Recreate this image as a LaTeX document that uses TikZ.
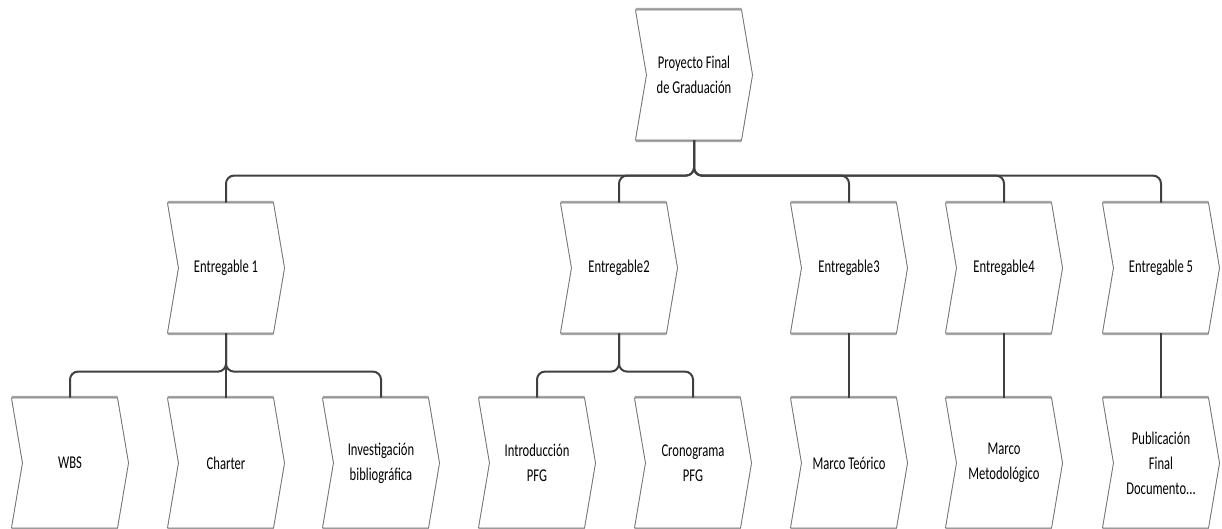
\documentclass[tikz,border=0pt]{standalone}
\usepackage{fontspec}
\setmainfont{Carlito}[FakeStretch=0.7]
\usepackage{tikz}
\usetikzlibrary{shapes.symbols,shadows}

\tikzset{
  wbsbox/.style={shape=signal, signal from=west, signal to=east,
    signal pointer angle=160.8, minimum width=117pt, minimum height=130pt,
    inner sep=0pt, fill=white, draw=black!55, line width=0.8pt,
    general shadow={fill=black!35, shadow yshift=2.2pt},
    general shadow={fill=black!35, shadow yshift=-2.2pt},
    align=center, font=\fontsize{18}{25}\selectfont},
  link/.style={draw=black!75, line width=2pt, rounded corners=8pt},
}

\begin{document}
\begin{tikzpicture}[x=1pt,y=-1pt]
    \useasboundingbox (0,0) rectangle (1222,529);

    % root
    \node[wbsbox] (pfg) at (694,75) {Proyecto Final\\de Graduación};

    % entregables
    \node[wbsbox] (e1) at ( 226,268) {Entregable 1};
    \node[wbsbox] (e2) at ( 619,268) {Entregable2};
    \node[wbsbox] (e3) at ( 849,268) {Entregable3};
    \node[wbsbox] (e4) at (1004,268) {Entregable4};
    \node[wbsbox] (e5) at (1161,268) {Entregable 5};

    % paquetes de trabajo
    \node[wbsbox] (wbs)   at (  70,463) {WBS};
    \node[wbsbox] (chart) at ( 226,463) {Charter};
    \node[wbsbox] (inv)   at ( 381,463) {Investigación\\bibliográfica};
    \node[wbsbox] (intro) at ( 537,463) {Introducción\\PFG};
    \node[wbsbox] (crono) at ( 693,463) {Cronograma\\PFG};
    \node[wbsbox] (mteo)  at ( 849,463) {Marco Teórico};
    \node[wbsbox] (mmet)  at (1004,463) {Marco\\Metodológico};
    \node[wbsbox] (pub)   at (1161,463) {Publicación\\Final\\Documento...};

    % root -> entregables
    \foreach \e in {e1,e2,e3,e4,e5}
        \draw[link] (pfg.south) |- ([yshift=27pt]\e.north) -- (\e.north);

    % entregable 1
    \foreach \c in {wbs,chart,inv}
        \draw[link] (e1.south) |- ([yshift=26pt]\c.north) -- (\c.north);

    % entregable 2
    \foreach \c in {intro,crono}
        \draw[link] (e2.south) |- ([yshift=26pt]\c.north) -- (\c.north);

    \draw[link] (e3.south) -- (mteo.north);
    \draw[link] (e4.south) -- (mmet.north);
    \draw[link] (e5.south) -- (pub.north);

\end{tikzpicture}
\end{document}
